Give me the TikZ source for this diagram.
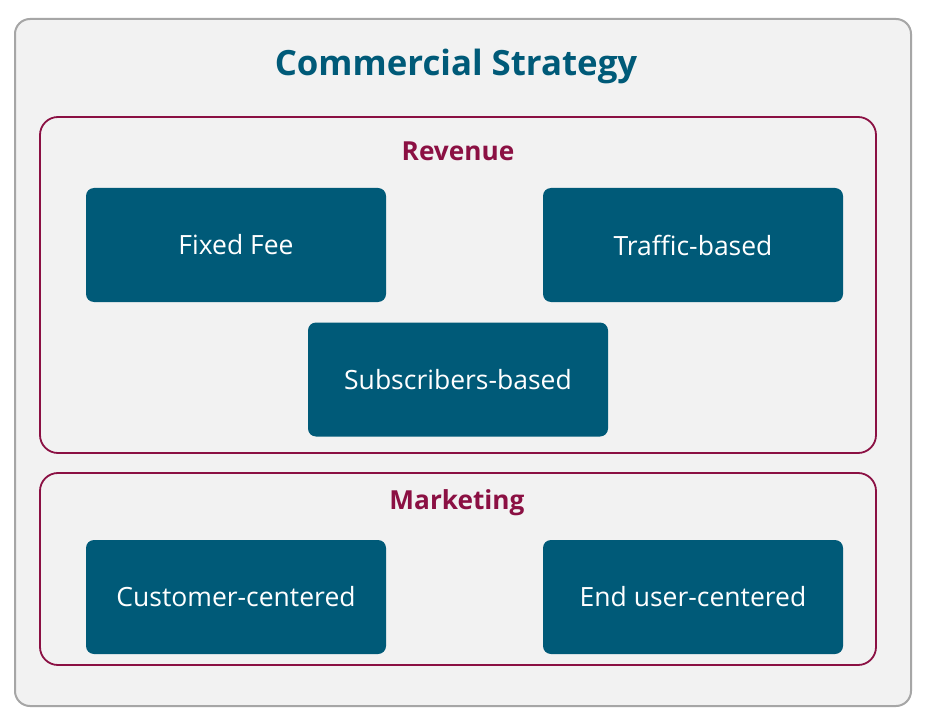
\documentclass[tikz,border=0pt]{standalone}
\usepackage{fontspec}
\setmainfont{Open Sans}
\definecolor{teal}{HTML}{005A78}
\definecolor{crim}{HTML}{8B1043}
\definecolor{bgray}{HTML}{F2F2F2}
\definecolor{ogray}{HTML}{A6A6A6}
\begin{document}
\begin{tikzpicture}[x=1pt,y=-1pt,
  outerbox/.style={draw=ogray,line width=2pt,fill=bgray,rounded corners=15pt},
  groupbox/.style={draw=crim,line width=1.8pt,rounded corners=18pt},
  itembox/.style={fill=teal,rounded corners=8pt,minimum width=300pt,minimum height=114pt,inner sep=0pt,text=white,font=\fontsize{26.5}{30}\selectfont},
  grouptitle/.style={text=crim,font=\fontsize{26.2}{30}\selectfont\bfseries,inner sep=0pt},
  maintitle/.style={text=teal,font=\fontsize{34.8}{42}\selectfont\bfseries,inner sep=0pt}]
\useasboundingbox (0,0) rectangle (926,719);
\fill[white] (0,0) rectangle (926,719);
\draw[outerbox] (15,19) rectangle (911,706);
\node[maintitle] (title) at (456,66) {Commercial Strategy};
\draw[groupbox] (40,117) rectangle (876,453);
\node[grouptitle] (rev) at (458,151) {Revenue};
\node[itembox] (ff) at (236,245) {Fixed Fee};
\node[itembox] (tb) at (693,245) {Traffic-based};
\node[itembox] (sb) at (458,379.5) {Subscribers-based};
\draw[groupbox] (40,473) rectangle (876,665);
\node[grouptitle] (mk) at (457,503) {Marketing};
\node[itembox] (cc) at (236,597) {Customer-centered};
\node[itembox] (eu) at (693,597) {End user-centered};
\end{tikzpicture}
\end{document}
